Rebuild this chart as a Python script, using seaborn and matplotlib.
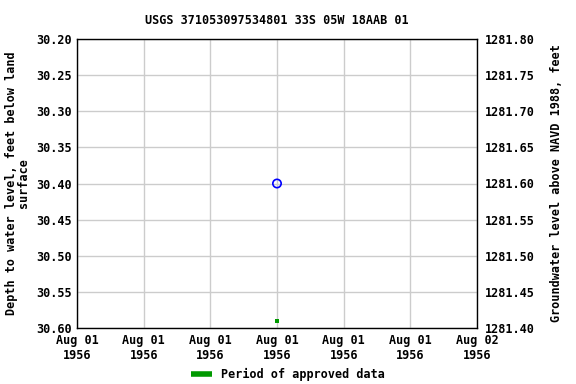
import matplotlib
matplotlib.use("Agg")
import matplotlib.pyplot as plt
import matplotlib.dates as mdates
from matplotlib.lines import Line2D
import seaborn as sns
import pandas as pd
import numpy as np

sns.set_style("white")
plt.rcParams['font.family'] = ['DejaVu Sans Mono', 'DejaVu Sans']
plt.rcParams['text.color'] = 'black'
plt.rcParams['axes.labelcolor'] = 'black'
plt.rcParams['xtick.color'] = 'black'
plt.rcParams['ytick.color'] = 'black'

# Data
meas_time = ["1956-08-01 12:00"]
meas_depth = [30.40]
approved_time = ["1956-08-01 12:00"]
approved_depth = [30.59]
title = "USGS 371053097534801 33S 05W 18AAB 01"
left_label = "Depth to water level, feet below land\nsurface"
right_label = "Groundwater level above NAVD 1988, feet"
x_start, x_end = "1956-08-01 00:00", "1956-08-02 00:00"
depth_lim = (30.20, 30.60)
elev_lim = (1281.80, 1281.40)

df = pd.DataFrame({"time": pd.to_datetime(meas_time), "depth": meas_depth})
df_app = pd.DataFrame({"time": pd.to_datetime(approved_time), "depth": approved_depth})

fig = plt.figure(figsize=(5.76, 3.84), dpi=100)
ax = fig.add_axes([77/576, 1 - 328/384, (477-77)/576, (328-39)/384])

sns.scatterplot(data=df, x="time", y="depth", ax=ax, marker="o", s=36,
                facecolor="none", edgecolor="#0000ff", linewidth=1.2, zorder=5)
sns.scatterplot(data=df_app, x="time", y="depth", ax=ax, marker="s", s=9,
                color="#009900", edgecolor="none", linewidth=0, zorder=5)

ax.set_xlim(pd.Timestamp(x_start), pd.Timestamp(x_end))
ax.set_ylim(depth_lim[1], depth_lim[0])
ax.set_yticks(np.arange(30.20, 30.601, 0.05))
ax.yaxis.set_major_formatter(matplotlib.ticker.FormatStrFormatter("%.2f"))
ax.xaxis.set_major_locator(mdates.HourLocator(byhour=[0, 4, 8, 12, 16, 20]))
ax.xaxis.set_major_formatter(mdates.DateFormatter("%b %d\n%Y"))
ax.grid(True, color="#cccccc", linewidth=1)
ax.set_xlabel("")
ax.set_ylabel(left_label, fontsize=8.5, fontweight="bold", linespacing=0.9)
ax.set_title(title, fontsize=8.5, fontweight="bold", pad=11)
for sp in ax.spines.values():
    sp.set_color("black")
    sp.set_linewidth(1)
ax.tick_params(axis="both", labelsize=8.5, length=0, pad=4)
for lbl in ax.get_xticklabels() + ax.get_yticklabels():
    lbl.set_fontweight("bold")

ax2 = ax.twinx()
ax2.set_ylim(elev_lim[1], elev_lim[0])
ax2.set_yticks(np.arange(1281.40, 1281.801, 0.05))
ax2.yaxis.set_major_formatter(matplotlib.ticker.FormatStrFormatter("%.2f"))
ax2.tick_params(axis="y", labelsize=8.5, length=0, pad=6)
for lbl in ax2.get_yticklabels():
    lbl.set_fontweight("bold")
ax2.set_ylabel(right_label, fontsize=8.5, fontweight="bold", labelpad=11)
for sp in ax2.spines.values():
    sp.set_visible(False)

handle = Line2D([], [], color="#009900", linewidth=4, solid_capstyle="butt")
fig.legend([handle], ["Period of approved data"], loc="lower center",
           bbox_to_anchor=(0.5, -0.02), frameon=False,
           prop={"size": 8.5, "weight": "bold"}, handlelength=1.8)

fig.savefig("out.png", dpi=100)
